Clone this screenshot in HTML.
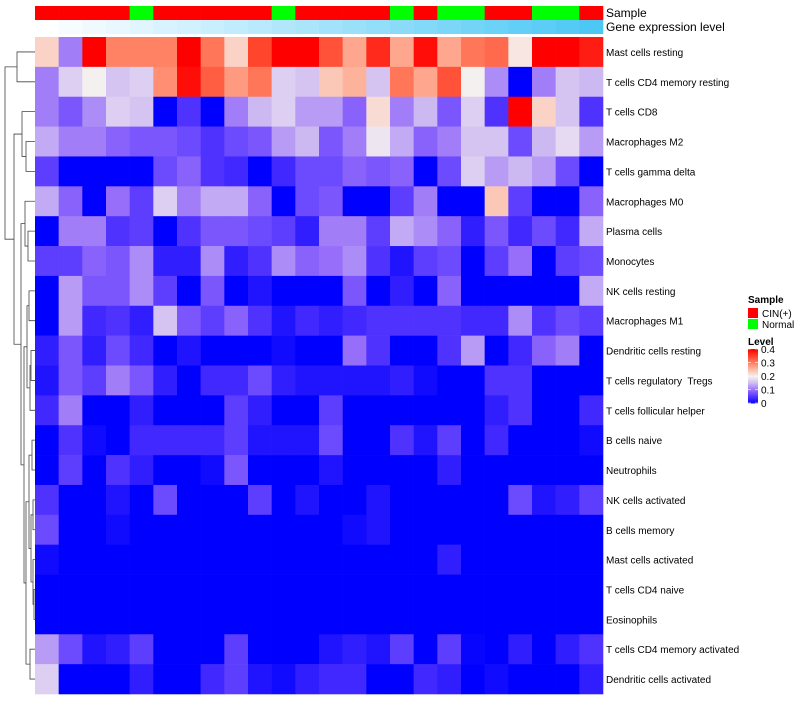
<!DOCTYPE html>
<html><head><meta charset="utf-8"><style>
body{margin:0;background:#fff;}
svg text{font-family:"Liberation Sans",sans-serif;fill:#000;white-space:pre;}
</style></head><body>
<svg id="chart" width="800" height="700" xmlns="http://www.w3.org/2000/svg">
<g id="dendro"></g>
<g id="ann"></g>
<g id="cells"></g>
<g id="rlabels"></g>
<g id="legend">
<text x="748" y="303" font-size="10" font-weight="bold">Sample</text>
<rect x="748" y="308" width="10" height="10" fill="#FF0000"/>
<text x="762" y="317" font-size="10">CIN(+)</text>
<rect x="748" y="319" width="10" height="10" fill="#00FF00"/>
<text x="762" y="328" font-size="10">Normal</text>
<text x="748" y="345" font-size="10" font-weight="bold">Level</text>
<g id="cbar"></g>
</g>
</svg>
<script>
const rowNames=["Mast cells resting","T cells CD4 memory resting","T cells CD8","Macrophages M2","T cells gamma delta","Macrophages M0","Plasma cells","Monocytes","NK cells resting","Macrophages M1","Dendritic cells resting","T cells regulatory  Tregs","T cells follicular helper","B cells naive","Neutrophils","NK cells activated","B cells memory","Mast cells activated","T cells CD4 naive","Eosinophils","T cells CD4 memory activated","Dendritic cells activated"];
const sampleGroups=["CIN(+)","CIN(+)","CIN(+)","CIN(+)","Normal","CIN(+)","CIN(+)","CIN(+)","CIN(+)","CIN(+)","Normal","CIN(+)","CIN(+)","CIN(+)","CIN(+)","Normal","CIN(+)","Normal","Normal","CIN(+)","CIN(+)","Normal","Normal","CIN(+)"];
const row0=[0.23,0.11,0.4,0.3,0.3,0.3,0.4,0.31,0.23,0.35,0.4,0.4,0.34,0.27,0.37,0.27,0.39,0.27,0.31,0.32,0.21,0.4,0.4,0.38];
const row1=[0.11,0.17,0.2,0.16,0.17,0.29,0.39,0.33,0.28,0.31,0.17,0.16,0.24,0.26,0.16,0.31,0.27,0.34,0.2,0.12,0,0.11,0.16,0.15];
const row2=[0.11,0.08,0.12,0.17,0.16,0,0.05,0,0.11,0.15,0.17,0.13,0.13,0.09,0.22,0.11,0.15,0.08,0.17,0.05,0.4,0.23,0.16,0.05];
const row3=[0.14,0.11,0.11,0.09,0.08,0.08,0.07,0.05,0.07,0.08,0.13,0.15,0.08,0.11,0.19,0.14,0.09,0.11,0.16,0.16,0.07,0.15,0.18,0.13];
const row4=[0.06,0,0,0,0,0.07,0.09,0.05,0.04,0,0.04,0.07,0.07,0.09,0.08,0.09,0,0.07,0.17,0.13,0.15,0.13,0.07,0];
const row5=[0.14,0.09,0,0.1,0.06,0.17,0.11,0.14,0.14,0.09,0,0.07,0.08,0,0,0.06,0.11,0,0,0.24,0.06,0,0,0.09];
const row6=[0,0.11,0.11,0.05,0.06,0,0.05,0.08,0.08,0.07,0.06,0.03,0.11,0.11,0.06,0.14,0.12,0.09,0.03,0.08,0.04,0.07,0.04,0.14];
const row7=[0.06,0.06,0.09,0.08,0.12,0.03,0.03,0.12,0.03,0.05,0.12,0.09,0.1,0.12,0.05,0.02,0.06,0.07,0,0.06,0.1,0,0.06,0.07];
const row8=[0,0.13,0.08,0.08,0.12,0.06,0,0.08,0,0.02,0,0,0,0.08,0,0.03,0,0.09,0,0,0,0,0,0.14];
const row9=[0,0.13,0.04,0.05,0.03,0.16,0.08,0.06,0.09,0.05,0.02,0.04,0.03,0.04,0.05,0.05,0.05,0.05,0.04,0.04,0.12,0.05,0.07,0.06];
const row10=[0.03,0.08,0.03,0.07,0.04,0,0.02,0,0,0,0.01,0,0,0.1,0.05,0,0,0.05,0.13,0,0.04,0.09,0.11,0];
const row11=[0.02,0.08,0.06,0.11,0.08,0.03,0,0.04,0.04,0.07,0.03,0.02,0.02,0.02,0.02,0.03,0.01,0,0,0.05,0.05,0,0,0];
const row12=[0.04,0.11,0,0,0.03,0,0,0,0.06,0.03,0,0,0.06,0,0,0,0,0,0,0.03,0.05,0,0,0.04];
const row13=[0,0.05,0.01,0,0.04,0.04,0.04,0.04,0.06,0.02,0.02,0.02,0.07,0,0,0.05,0.02,0.06,0,0.04,0,0,0,0.01];
const row14=[0,0.06,0,0.05,0.03,0,0,0.01,0.08,0,0,0,0.02,0,0,0,0,0.03,0,0,0,0,0,0];
const row15=[0.05,0,0,0.02,0,0.07,0,0,0,0.06,0,0.02,0,0,0.02,0,0,0,0,0,0.07,0.02,0.03,0.06];
const row16=[0.07,0,0,0.01,0,0,0,0,0,0,0,0,0,0.01,0.02,0,0,0,0,0,0,0,0,0];
const row17=[0.01,0,0,0,0,0,0,0,0,0,0,0,0,0,0,0,0,0.03,0,0,0,0,0,0];
const row18=[0,0,0,0,0,0,0,0,0,0,0,0,0,0,0,0,0,0,0,0,0,0,0,0];
const row19=[0,0,0,0,0,0,0,0,0,0,0,0,0,0,0,0,0,0,0,0,0,0,0,0];
const row20=[0.13,0.07,0.02,0.03,0.06,0,0,0,0.06,0,0,0,0.02,0.03,0.02,0.06,0,0.06,0.005,0,0.03,0,0.03,0.05];
const row21=[0.17,0,0,0,0.03,0,0,0.04,0.06,0.02,0.01,0.03,0.04,0.04,0,0,0.04,0.03,0,0.01,0,0,0,0.03];
const values=[row0,row1,row2,row3,row4,row5,row6,row7,row8,row9,row10,row11,row12,row13,row14,row15,row16,row17,row18,row19,row20,row21];
const levelTicks=[0,0.1,0.2,0.3,0.4];

const NS="http://www.w3.org/2000/svg";
const X0=35,X1=603,Y0=37,Y1=694;
const nC=sampleGroups.length,nR=rowNames.length;
const cw=(X1-X0)/nC,rh=(Y1-Y0)/nR;
const xPos=i=>X0+i*cw, yPos=j=>Y0+j*rh;
const stops=[[0,[0,0,255]],[0.05,[80,50,255]],[0.1,[150,110,250]],[0.15,[205,185,242]],[0.2,[245,240,240]],[0.25,[253,190,170]],[0.3,[255,130,100]],[0.35,[255,70,45]],[0.4,[255,0,0]]];
function col(v){v=Math.max(0,Math.min(0.4,v));for(let k=1;k<stops.length;k++){if(v<=stops[k][0]){const[a,ca]=stops[k-1],[b,cb]=stops[k];const t=(v-a)/(b-a);return`rgb(${ca.map((c,i)=>Math.round(c+(cb[i]-c)*t)).join(',')})`;}}return'rgb(255,0,0)';}
function mk(tag,attrs,parent){const e=document.createElementNS(NS,tag);for(const k in attrs)e.setAttribute(k,attrs[k]);parent.appendChild(e);return e;}

const cells=document.getElementById('cells');
values.forEach((r,j)=>r.forEach((v,i)=>{
 const e=mk('rect',{x:xPos(i),y:yPos(j),width:cw+0.3,height:rh+0.3,fill:col(v)},cells);
 
 
}));
const rl=document.getElementById('rlabels');
rowNames.forEach((n,j)=>{
 const t=mk('text',{x:606,y:yPos(j)+rh/2+4,'font-size':10},rl);t.textContent=n;
 
 
});
const ann=document.getElementById('ann');
sampleGroups.forEach((g,i)=>{
 const e=mk('rect',{x:xPos(i),y:6,width:cw+0.3,height:14,fill:g==="Normal"?"#00FF00":"#FF0000"},ann);
 
 
 const t=i/(nC-1);
 const e2=mk('rect',{x:xPos(i),y:20,width:cw+0.3,height:14,fill:`rgb(${Math.round(255-178*t)},${Math.round(255-55*t)},${Math.round(255-10*t)})`},ann);
 
 
});
let t1=mk('text',{x:606,y:17,'font-size':12},ann);t1.textContent="Sample";

let t2=mk('text',{x:606,y:31,'font-size':12},ann);t2.textContent="Gene expression level";


const cb=document.getElementById('cbar');
const cbTop=349,cbBot=403;
for(let k=0;k<40;k++){const v=0.4-k*0.01;const e=mk('rect',{x:748,y:cbTop+k*(cbBot-cbTop)/40,width:10,height:(cbBot-cbTop)/40+0.5,fill:col(v)},cb);
 }
levelTicks.forEach(v=>{const y=cbBot-(v/0.4)*(cbBot-cbTop);
 mk('line',{x1:748,x2:751,y1:y,y2:y,stroke:'#fff','stroke-width':0.6},cb);mk('line',{x1:755,x2:758,y1:y,y2:y,stroke:'#fff','stroke-width':0.6},cb);
 const t=mk('text',{x:761,y:y+4,'font-size':10},cb);t.textContent=String(v);
 });

const dg=document.getElementById('dendro');
const cy=j=>yPos(j)+rh/2;
function leaf(j){return{y:cy(j),h:X0};}
function join(a,b,x){mk('path',{d:`M${a.h},${a.y}H${x}V${b.y}H${b.h}`,fill:'none',stroke:'#444','stroke-width':0.8},dg);return{y:(a.y+b.y)/2,h:x};}
const L=leaf;
let c01=join(L(0),L(1),17);
let c34=join(L(3),L(4),26);
let c234=join(L(2),c34,22);
let c6=join(L(6),L(7),28);
let c56=join(L(5),c6,25);
let c89=join(L(8),L(9),29);
let c10=join(L(10),L(11),31);
let c1012=join(c10,L(12),30);
let c89b=join(c89,c1012,27);
let c1314=join(L(13),L(14),32);
let c15=join(L(15),L(16),33);
let c17=join(L(17),join(L(18),L(19),34),33);
let c1517=join(c15,c17,31);
let cmid=join(c1314,c1517,29);
let c2021=join(L(20),L(21),30);
let clow=join(cmid,c2021,26);
let cB=join(c89b,clow,24);
let cA=join(c56,cB,21);
let cRest=join(c234,cA,14);
join(c01,cRest,5);
</script>
</body></html>
